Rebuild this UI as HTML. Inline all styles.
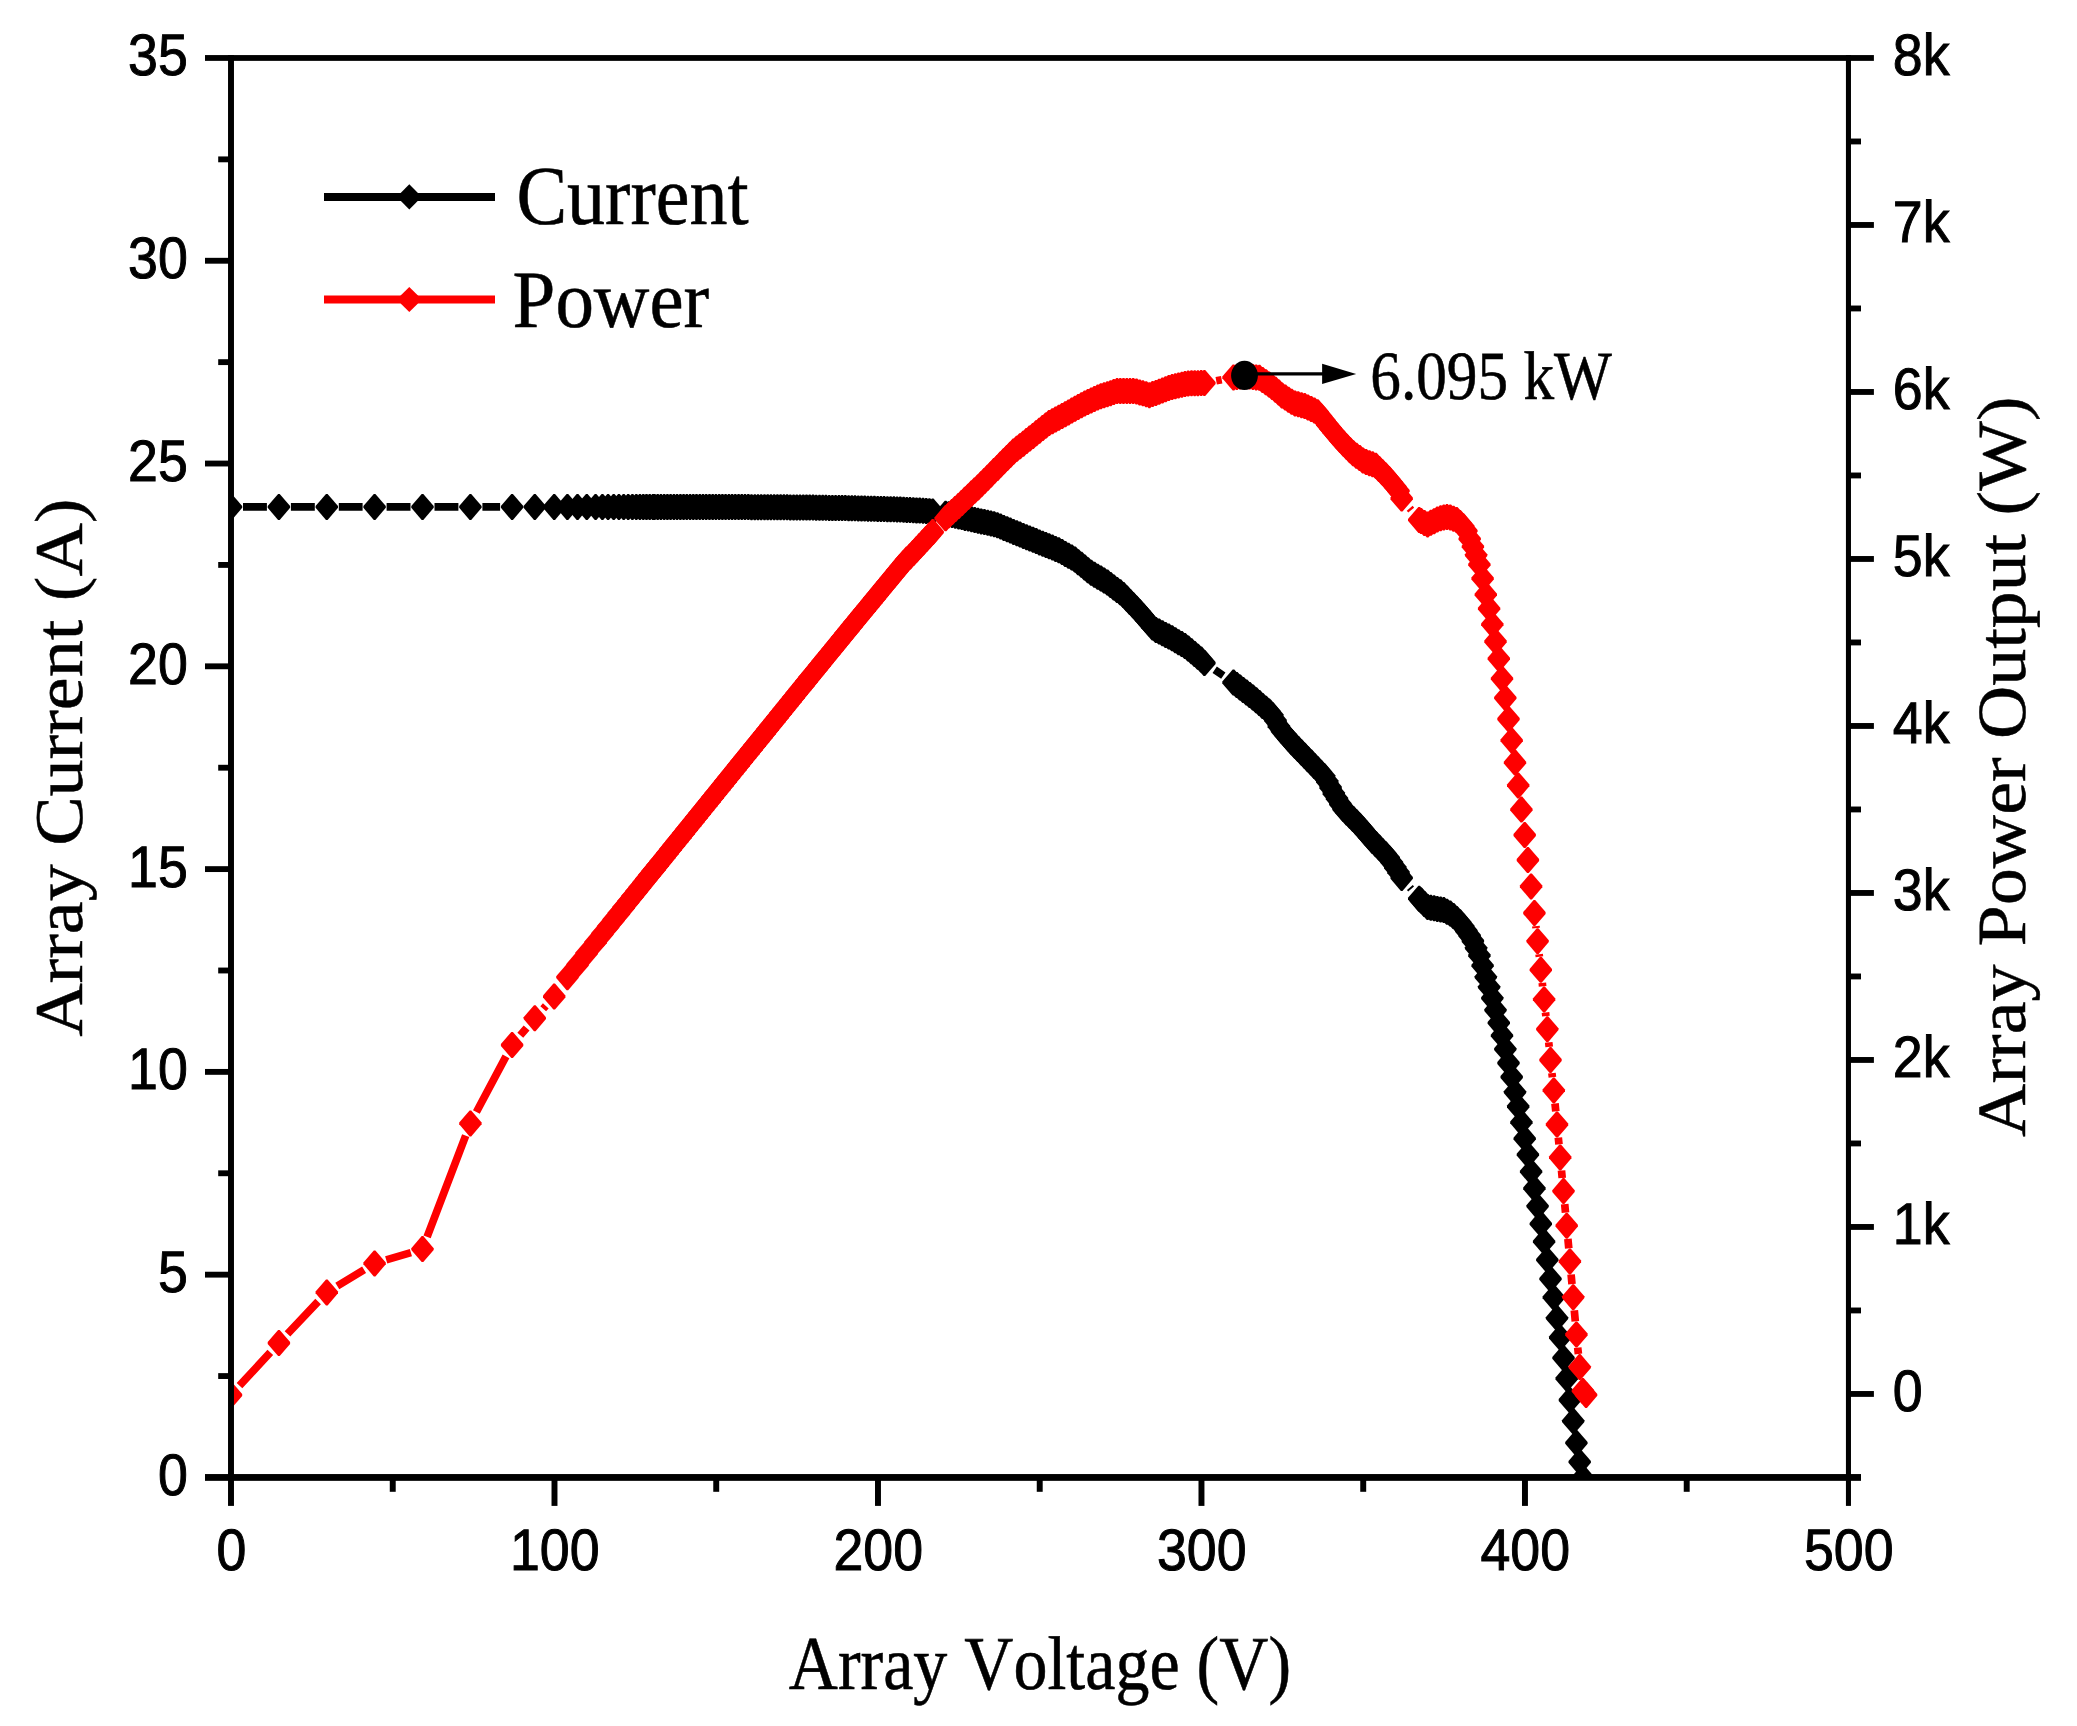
<!DOCTYPE html>
<html lang="en"><head><meta charset="utf-8"><title>Array I-V and P-V curves</title>
<style>html,body{margin:0;padding:0;background:#fff}body{width:2077px;height:1726px;overflow:hidden}svg{display:block}text{fill:#000;font-kerning:none;font-variant-ligatures:none;text-rendering:geometricPrecision}</style></head><body>
<svg width="2077" height="1726" viewBox="0 0 2077 1726">
<rect width="2077" height="1726" fill="#fff"/>
<defs><clipPath id="plot"><rect x="231.0" y="58.0" width="1617.5" height="1419.5"/></clipPath><path id="d" d="M-11.2 -0.9L-0.8 -13H0.8L11.2 -0.9V0.9L0.8 13H-0.8L-11.2 0.9z"/><path id="ld" d="M409.3 184.3l8.4 8.4l1.5 4.2l-1.5 4.2l-8.4 8.4l-8.4-8.4l-1.5-4.2l1.5-4.2z"/></defs>
<g clip-path="url(#plot)">
<path d="M243.0 506.9L266.9 506.9M290.9 506.9L314.8 506.9M338.8 506.9L362.6 506.9M386.6 506.9L410.5 506.9M434.5 506.9L458.4 506.9M482.4 506.9L500.1 506.9M1214.7 669.8L1223.3 675.6M1409.9 887.6L1411.1 889.0" fill="none" stroke="#000" stroke-width="7.7"/>
<g fill="#000"><use href="#d" x="231.0" y="506.9"/><use href="#d" x="278.9" y="506.9"/><use href="#d" x="326.8" y="506.9"/><use href="#d" x="374.6" y="506.9"/><use href="#d" x="422.5" y="506.9"/><use href="#d" x="470.4" y="506.9"/><use href="#d" x="512.1" y="506.9"/><use href="#d" x="534.8" y="506.9"/><use href="#d" x="554.2" y="506.9"/><use href="#d" x="567.4" y="506.9"/><use href="#d" x="577.5" y="506.9"/><use href="#d" x="586.8" y="506.9"/><use href="#d" x="595.6" y="506.9"/><use href="#d" x="602.4" y="506.9"/><use href="#d" x="608.1" y="506.9"/><use href="#d" x="613.7" y="506.9"/><use href="#d" x="618.9" y="506.9"/><use href="#d" x="623.7" y="506.9"/><use href="#d" x="628.2" y="506.9"/><use href="#d" x="632.4" y="506.9"/><use href="#d" x="636.3" y="506.9"/><use href="#d" x="639.9" y="506.9"/><use href="#d" x="643.3" y="506.9"/><use href="#d" x="646.5" y="506.9"/><use href="#d" x="649.7" y="506.9"/><use href="#d" x="653.0" y="506.9"/><use href="#d" x="654.5" y="506.9"/><use href="#d" x="657.7" y="506.9"/><use href="#d" x="660.9" y="506.9"/><use href="#d" x="664.2" y="506.9"/><use href="#d" x="667.4" y="506.9"/><use href="#d" x="670.6" y="506.9"/><use href="#d" x="673.9" y="506.9"/><use href="#d" x="677.1" y="506.9"/><use href="#d" x="680.4" y="506.9"/><use href="#d" x="683.6" y="506.9"/><use href="#d" x="686.8" y="506.9"/><use href="#d" x="690.1" y="506.9"/><use href="#d" x="693.3" y="506.9"/><use href="#d" x="696.5" y="506.9"/><use href="#d" x="699.8" y="506.9"/><use href="#d" x="703.0" y="506.9"/><use href="#d" x="706.2" y="506.9"/><use href="#d" x="709.5" y="506.9"/><use href="#d" x="712.7" y="507.0"/><use href="#d" x="715.9" y="507.0"/><use href="#d" x="719.2" y="507.0"/><use href="#d" x="722.4" y="507.0"/><use href="#d" x="725.6" y="507.0"/><use href="#d" x="728.9" y="507.0"/><use href="#d" x="732.1" y="507.1"/><use href="#d" x="735.3" y="507.1"/><use href="#d" x="738.6" y="507.1"/><use href="#d" x="741.8" y="507.1"/><use href="#d" x="745.0" y="507.1"/><use href="#d" x="748.3" y="507.1"/><use href="#d" x="751.5" y="507.2"/><use href="#d" x="754.8" y="507.2"/><use href="#d" x="758.0" y="507.2"/><use href="#d" x="761.2" y="507.2"/><use href="#d" x="764.5" y="507.2"/><use href="#d" x="767.7" y="507.2"/><use href="#d" x="770.9" y="507.3"/><use href="#d" x="774.2" y="507.3"/><use href="#d" x="777.4" y="507.3"/><use href="#d" x="780.6" y="507.3"/><use href="#d" x="783.9" y="507.3"/><use href="#d" x="787.1" y="507.3"/><use href="#d" x="790.3" y="507.4"/><use href="#d" x="793.6" y="507.4"/><use href="#d" x="796.8" y="507.4"/><use href="#d" x="800.0" y="507.4"/><use href="#d" x="803.3" y="507.5"/><use href="#d" x="806.5" y="507.5"/><use href="#d" x="809.7" y="507.6"/><use href="#d" x="813.0" y="507.6"/><use href="#d" x="816.2" y="507.7"/><use href="#d" x="819.5" y="507.7"/><use href="#d" x="822.7" y="507.8"/><use href="#d" x="825.9" y="507.8"/><use href="#d" x="829.2" y="507.9"/><use href="#d" x="832.4" y="507.9"/><use href="#d" x="835.6" y="508.0"/><use href="#d" x="838.9" y="508.0"/><use href="#d" x="842.1" y="508.1"/><use href="#d" x="845.3" y="508.1"/><use href="#d" x="848.6" y="508.2"/><use href="#d" x="851.8" y="508.2"/><use href="#d" x="855.0" y="508.3"/><use href="#d" x="858.3" y="508.4"/><use href="#d" x="861.5" y="508.5"/><use href="#d" x="864.7" y="508.6"/><use href="#d" x="868.0" y="508.7"/><use href="#d" x="871.2" y="508.8"/><use href="#d" x="874.4" y="508.8"/><use href="#d" x="877.7" y="508.9"/><use href="#d" x="880.9" y="509.0"/><use href="#d" x="884.1" y="509.1"/><use href="#d" x="887.4" y="509.2"/><use href="#d" x="890.6" y="509.3"/><use href="#d" x="893.9" y="509.3"/><use href="#d" x="897.1" y="509.4"/><use href="#d" x="900.3" y="509.5"/><use href="#d" x="903.6" y="509.7"/><use href="#d" x="906.8" y="509.9"/><use href="#d" x="910.0" y="510.1"/><use href="#d" x="913.3" y="510.3"/><use href="#d" x="916.5" y="510.4"/><use href="#d" x="919.7" y="510.6"/><use href="#d" x="923.0" y="510.8"/><use href="#d" x="926.2" y="511.0"/><use href="#d" x="929.4" y="511.2"/><use href="#d" x="932.7" y="511.5"/><use href="#d" x="945.6" y="513.7"/><use href="#d" x="948.8" y="514.3"/><use href="#d" x="952.1" y="515.0"/><use href="#d" x="955.3" y="515.7"/><use href="#d" x="958.6" y="516.4"/><use href="#d" x="961.8" y="517.1"/><use href="#d" x="965.0" y="517.9"/><use href="#d" x="968.3" y="518.6"/><use href="#d" x="971.5" y="519.3"/><use href="#d" x="974.7" y="520.0"/><use href="#d" x="978.0" y="520.7"/><use href="#d" x="981.2" y="521.4"/><use href="#d" x="984.4" y="522.1"/><use href="#d" x="987.7" y="522.8"/><use href="#d" x="990.9" y="523.5"/><use href="#d" x="994.1" y="524.2"/><use href="#d" x="997.4" y="525.3"/><use href="#d" x="1000.6" y="526.6"/><use href="#d" x="1003.8" y="527.9"/><use href="#d" x="1007.1" y="529.3"/><use href="#d" x="1010.3" y="530.6"/><use href="#d" x="1013.5" y="531.9"/><use href="#d" x="1016.8" y="533.2"/><use href="#d" x="1020.0" y="534.6"/><use href="#d" x="1023.3" y="535.9"/><use href="#d" x="1026.5" y="537.2"/><use href="#d" x="1029.7" y="538.5"/><use href="#d" x="1033.0" y="539.8"/><use href="#d" x="1036.2" y="541.1"/><use href="#d" x="1039.4" y="542.4"/><use href="#d" x="1042.7" y="543.7"/><use href="#d" x="1045.9" y="545.0"/><use href="#d" x="1049.1" y="546.3"/><use href="#d" x="1052.4" y="547.6"/><use href="#d" x="1055.6" y="548.9"/><use href="#d" x="1058.8" y="550.2"/><use href="#d" x="1062.1" y="552.0"/><use href="#d" x="1065.3" y="553.9"/><use href="#d" x="1068.5" y="555.7"/><use href="#d" x="1071.8" y="557.6"/><use href="#d" x="1075.0" y="559.5"/><use href="#d" x="1078.2" y="562.2"/><use href="#d" x="1081.5" y="564.8"/><use href="#d" x="1084.7" y="567.5"/><use href="#d" x="1087.9" y="570.2"/><use href="#d" x="1091.2" y="572.8"/><use href="#d" x="1094.4" y="574.7"/><use href="#d" x="1097.7" y="576.7"/><use href="#d" x="1100.9" y="578.6"/><use href="#d" x="1104.1" y="580.6"/><use href="#d" x="1107.4" y="582.6"/><use href="#d" x="1110.6" y="585.1"/><use href="#d" x="1113.8" y="587.5"/><use href="#d" x="1117.1" y="589.9"/><use href="#d" x="1120.3" y="592.3"/><use href="#d" x="1123.5" y="595.1"/><use href="#d" x="1126.8" y="598.5"/><use href="#d" x="1130.0" y="601.9"/><use href="#d" x="1133.2" y="605.3"/><use href="#d" x="1136.5" y="608.7"/><use href="#d" x="1139.7" y="612.2"/><use href="#d" x="1142.9" y="616.0"/><use href="#d" x="1146.2" y="619.8"/><use href="#d" x="1149.4" y="623.6"/><use href="#d" x="1152.6" y="627.4"/><use href="#d" x="1155.9" y="630.0"/><use href="#d" x="1159.1" y="631.6"/><use href="#d" x="1162.4" y="633.2"/><use href="#d" x="1165.6" y="634.9"/><use href="#d" x="1168.8" y="636.5"/><use href="#d" x="1172.1" y="638.3"/><use href="#d" x="1175.3" y="640.2"/><use href="#d" x="1178.5" y="642.2"/><use href="#d" x="1181.8" y="644.1"/><use href="#d" x="1185.0" y="646.1"/><use href="#d" x="1188.2" y="648.6"/><use href="#d" x="1191.5" y="651.3"/><use href="#d" x="1194.7" y="654.1"/><use href="#d" x="1197.9" y="656.8"/><use href="#d" x="1201.2" y="659.6"/><use href="#d" x="1204.4" y="663.0"/><use href="#d" x="1233.5" y="682.5"/><use href="#d" x="1236.8" y="685.0"/><use href="#d" x="1240.0" y="687.5"/><use href="#d" x="1243.2" y="690.0"/><use href="#d" x="1246.5" y="692.5"/><use href="#d" x="1249.7" y="695.0"/><use href="#d" x="1252.9" y="697.5"/><use href="#d" x="1256.2" y="700.3"/><use href="#d" x="1259.4" y="703.1"/><use href="#d" x="1262.6" y="705.9"/><use href="#d" x="1265.9" y="708.7"/><use href="#d" x="1269.1" y="711.5"/><use href="#d" x="1272.3" y="715.1"/><use href="#d" x="1275.6" y="720.7"/><use href="#d" x="1278.8" y="726.3"/><use href="#d" x="1282.0" y="731.1"/><use href="#d" x="1285.3" y="734.8"/><use href="#d" x="1288.5" y="738.5"/><use href="#d" x="1291.7" y="742.2"/><use href="#d" x="1295.0" y="745.8"/><use href="#d" x="1298.2" y="749.1"/><use href="#d" x="1301.5" y="752.5"/><use href="#d" x="1304.7" y="755.8"/><use href="#d" x="1307.9" y="759.2"/><use href="#d" x="1311.2" y="762.5"/><use href="#d" x="1314.4" y="765.9"/><use href="#d" x="1317.6" y="769.3"/><use href="#d" x="1320.9" y="772.7"/><use href="#d" x="1324.1" y="776.1"/><use href="#d" x="1327.3" y="781.5"/><use href="#d" x="1330.6" y="787.5"/><use href="#d" x="1333.8" y="793.5"/><use href="#d" x="1337.0" y="798.7"/><use href="#d" x="1340.3" y="804.0"/><use href="#d" x="1343.5" y="809.1"/><use href="#d" x="1346.7" y="812.4"/><use href="#d" x="1350.0" y="815.7"/><use href="#d" x="1353.2" y="819.0"/><use href="#d" x="1356.4" y="822.3"/><use href="#d" x="1359.7" y="825.7"/><use href="#d" x="1362.9" y="829.5"/><use href="#d" x="1366.1" y="833.3"/><use href="#d" x="1369.4" y="837.1"/><use href="#d" x="1372.6" y="840.9"/><use href="#d" x="1375.9" y="844.2"/><use href="#d" x="1379.1" y="847.6"/><use href="#d" x="1382.3" y="850.9"/><use href="#d" x="1385.6" y="854.2"/><use href="#d" x="1388.8" y="858.0"/><use href="#d" x="1392.0" y="862.7"/><use href="#d" x="1395.3" y="867.5"/><use href="#d" x="1398.5" y="872.3"/><use href="#d" x="1401.7" y="877.9"/><use href="#d" x="1419.2" y="898.7"/><use href="#d" x="1421.1" y="900.6"/><use href="#d" x="1424.4" y="903.9"/><use href="#d" x="1427.6" y="907.1"/><use href="#d" x="1430.8" y="907.8"/><use href="#d" x="1434.1" y="908.3"/><use href="#d" x="1437.3" y="908.9"/><use href="#d" x="1440.6" y="909.5"/><use href="#d" x="1443.8" y="910.1"/><use href="#d" x="1447.0" y="911.7"/><use href="#d" x="1450.3" y="913.4"/><use href="#d" x="1453.5" y="916.0"/><use href="#d" x="1456.7" y="919.1"/><use href="#d" x="1460.0" y="922.3"/><use href="#d" x="1463.2" y="926.3"/><use href="#d" x="1466.4" y="931.0"/><use href="#d" x="1469.7" y="935.7"/><use href="#d" x="1472.9" y="941.0"/><use href="#d" x="1476.1" y="948.2"/><use href="#d" x="1479.4" y="955.5"/><use href="#d" x="1482.6" y="965.7"/><use href="#d" x="1485.8" y="977.1"/><use href="#d" x="1489.1" y="987.1"/><use href="#d" x="1492.3" y="998.2"/><use href="#d" x="1495.5" y="1010.1"/><use href="#d" x="1498.8" y="1022.9"/><use href="#d" x="1502.0" y="1035.6"/><use href="#d" x="1505.3" y="1049.1"/><use href="#d" x="1508.5" y="1063.0"/><use href="#d" x="1511.7" y="1077.0"/><use href="#d" x="1515.0" y="1092.2"/><use href="#d" x="1518.2" y="1106.5"/><use href="#d" x="1521.4" y="1122.4"/><use href="#d" x="1524.7" y="1138.6"/><use href="#d" x="1527.9" y="1154.7"/><use href="#d" x="1531.1" y="1171.7"/><use href="#d" x="1534.4" y="1188.4"/><use href="#d" x="1537.6" y="1206.2"/><use href="#d" x="1540.8" y="1223.8"/><use href="#d" x="1544.1" y="1241.6"/><use href="#d" x="1547.3" y="1259.9"/><use href="#d" x="1550.5" y="1278.9"/><use href="#d" x="1553.8" y="1297.4"/><use href="#d" x="1557.0" y="1318.1"/><use href="#d" x="1560.2" y="1337.5"/><use href="#d" x="1563.5" y="1357.9"/><use href="#d" x="1566.7" y="1378.5"/><use href="#d" x="1569.9" y="1400.0"/><use href="#d" x="1573.2" y="1421.1"/><use href="#d" x="1576.4" y="1442.9"/><use href="#d" x="1579.7" y="1461.9"/><use href="#d" x="1582.9" y="1477.6"/></g>
<path d="M239.5 1385.7L270.3 1352.3M287.5 1333.9L318.1 1301.5M337.3 1286.0L364.1 1269.8M386.2 1259.9L410.9 1252.6M427.1 1236.9L465.7 1135.6M476.4 1112.0L506.0 1056.4M520.3 1035.3L526.6 1027.9M543.2 1008.8L545.8 1005.9M1216.2 380.7L1221.7 379.7M1409.7 508.3L1411.2 510.1M1535.9 926.1L1536.1 928.1M1539.1 954.3L1539.4 956.7M1542.3 982.9L1542.6 986.3M1545.5 1012.5L1545.9 1016.1M1548.7 1042.3L1549.2 1046.9M1551.9 1073.1L1552.4 1077.3M1555.0 1103.5L1555.8 1111.4M1558.3 1137.6L1559.0 1144.3M1561.5 1170.5L1562.2 1178.0M1564.7 1204.2L1565.5 1212.6M1567.9 1238.8L1568.8 1248.3M1571.1 1274.5L1572.0 1284.1M1574.3 1310.3L1575.3 1321.4M1577.7 1347.6L1578.4 1354.0" fill="none" stroke="#fe0000" stroke-width="7.7"/>
<g fill="#fe0000"><use href="#d" x="231.0" y="1395.0"/><use href="#d" x="278.9" y="1343.0"/><use href="#d" x="326.8" y="1292.4"/><use href="#d" x="374.6" y="1263.4"/><use href="#d" x="422.5" y="1249.1"/><use href="#d" x="470.4" y="1123.4"/><use href="#d" x="512.1" y="1045.0"/><use href="#d" x="534.8" y="1018.2"/><use href="#d" x="554.2" y="996.5"/><use href="#d" x="567.4" y="977.2"/><use href="#d" x="577.5" y="964.8"/><use href="#d" x="586.8" y="953.2"/><use href="#d" x="595.6" y="942.3"/><use href="#d" x="602.4" y="933.9"/><use href="#d" x="608.1" y="926.8"/><use href="#d" x="613.7" y="919.9"/><use href="#d" x="618.9" y="913.5"/><use href="#d" x="623.7" y="907.5"/><use href="#d" x="628.2" y="901.9"/><use href="#d" x="632.4" y="896.7"/><use href="#d" x="636.3" y="891.9"/><use href="#d" x="639.9" y="887.4"/><use href="#d" x="643.3" y="883.2"/><use href="#d" x="646.5" y="879.2"/><use href="#d" x="649.7" y="875.2"/><use href="#d" x="653.0" y="871.2"/><use href="#d" x="654.5" y="869.4"/><use href="#d" x="657.7" y="865.4"/><use href="#d" x="660.9" y="861.4"/><use href="#d" x="664.2" y="857.4"/><use href="#d" x="667.4" y="853.4"/><use href="#d" x="670.6" y="849.3"/><use href="#d" x="673.9" y="845.3"/><use href="#d" x="677.1" y="841.3"/><use href="#d" x="680.4" y="837.3"/><use href="#d" x="683.6" y="833.3"/><use href="#d" x="686.8" y="829.3"/><use href="#d" x="690.1" y="825.3"/><use href="#d" x="693.3" y="821.3"/><use href="#d" x="696.5" y="817.3"/><use href="#d" x="699.8" y="813.3"/><use href="#d" x="703.0" y="809.3"/><use href="#d" x="706.2" y="805.3"/><use href="#d" x="709.5" y="801.3"/><use href="#d" x="712.7" y="797.3"/><use href="#d" x="715.9" y="793.3"/><use href="#d" x="719.2" y="789.3"/><use href="#d" x="722.4" y="785.3"/><use href="#d" x="725.6" y="781.3"/><use href="#d" x="728.9" y="777.3"/><use href="#d" x="732.1" y="773.3"/><use href="#d" x="735.3" y="769.3"/><use href="#d" x="738.6" y="765.3"/><use href="#d" x="741.8" y="761.3"/><use href="#d" x="745.0" y="757.3"/><use href="#d" x="748.3" y="753.3"/><use href="#d" x="751.5" y="749.3"/><use href="#d" x="754.8" y="745.3"/><use href="#d" x="758.0" y="741.3"/><use href="#d" x="761.2" y="737.4"/><use href="#d" x="764.5" y="733.4"/><use href="#d" x="767.7" y="729.4"/><use href="#d" x="770.9" y="725.4"/><use href="#d" x="774.2" y="721.4"/><use href="#d" x="777.4" y="717.4"/><use href="#d" x="780.6" y="713.4"/><use href="#d" x="783.9" y="709.4"/><use href="#d" x="787.1" y="705.4"/><use href="#d" x="790.3" y="701.4"/><use href="#d" x="793.6" y="697.4"/><use href="#d" x="796.8" y="693.4"/><use href="#d" x="800.0" y="689.4"/><use href="#d" x="803.3" y="685.5"/><use href="#d" x="806.5" y="681.5"/><use href="#d" x="809.7" y="677.5"/><use href="#d" x="813.0" y="673.6"/><use href="#d" x="816.2" y="669.6"/><use href="#d" x="819.5" y="665.6"/><use href="#d" x="822.7" y="661.7"/><use href="#d" x="825.9" y="657.7"/><use href="#d" x="829.2" y="653.7"/><use href="#d" x="832.4" y="649.8"/><use href="#d" x="835.6" y="645.8"/><use href="#d" x="838.9" y="641.8"/><use href="#d" x="842.1" y="637.9"/><use href="#d" x="845.3" y="633.9"/><use href="#d" x="848.6" y="630.0"/><use href="#d" x="851.8" y="626.0"/><use href="#d" x="855.0" y="622.1"/><use href="#d" x="858.3" y="618.1"/><use href="#d" x="861.5" y="614.2"/><use href="#d" x="864.7" y="610.3"/><use href="#d" x="868.0" y="606.3"/><use href="#d" x="871.2" y="602.4"/><use href="#d" x="874.4" y="598.5"/><use href="#d" x="877.7" y="594.6"/><use href="#d" x="880.9" y="590.6"/><use href="#d" x="884.1" y="586.7"/><use href="#d" x="887.4" y="582.8"/><use href="#d" x="890.6" y="578.8"/><use href="#d" x="893.9" y="574.9"/><use href="#d" x="897.1" y="571.0"/><use href="#d" x="900.3" y="567.1"/><use href="#d" x="903.6" y="563.2"/><use href="#d" x="906.8" y="559.4"/><use href="#d" x="910.0" y="556.6"/><use href="#d" x="913.3" y="553.1"/><use href="#d" x="916.5" y="549.6"/><use href="#d" x="919.7" y="546.1"/><use href="#d" x="923.0" y="542.6"/><use href="#d" x="926.2" y="539.1"/><use href="#d" x="929.4" y="535.6"/><use href="#d" x="932.7" y="532.1"/><use href="#d" x="945.6" y="518.3"/><use href="#d" x="948.8" y="515.2"/><use href="#d" x="952.1" y="512.1"/><use href="#d" x="955.3" y="509.0"/><use href="#d" x="958.6" y="505.9"/><use href="#d" x="961.8" y="502.9"/><use href="#d" x="965.0" y="499.8"/><use href="#d" x="968.3" y="496.7"/><use href="#d" x="971.5" y="493.6"/><use href="#d" x="974.7" y="490.6"/><use href="#d" x="978.0" y="487.5"/><use href="#d" x="981.2" y="484.3"/><use href="#d" x="984.4" y="481.0"/><use href="#d" x="987.7" y="477.7"/><use href="#d" x="990.9" y="474.4"/><use href="#d" x="994.1" y="471.1"/><use href="#d" x="997.4" y="467.9"/><use href="#d" x="1000.6" y="464.6"/><use href="#d" x="1003.8" y="461.3"/><use href="#d" x="1007.1" y="458.0"/><use href="#d" x="1010.3" y="454.7"/><use href="#d" x="1013.5" y="451.5"/><use href="#d" x="1016.8" y="448.8"/><use href="#d" x="1020.0" y="446.2"/><use href="#d" x="1023.3" y="443.7"/><use href="#d" x="1026.5" y="441.1"/><use href="#d" x="1029.7" y="438.5"/><use href="#d" x="1033.0" y="435.9"/><use href="#d" x="1036.2" y="433.3"/><use href="#d" x="1039.4" y="430.7"/><use href="#d" x="1042.7" y="428.1"/><use href="#d" x="1045.9" y="425.6"/><use href="#d" x="1049.1" y="423.1"/><use href="#d" x="1052.4" y="421.3"/><use href="#d" x="1055.6" y="419.5"/><use href="#d" x="1058.8" y="417.8"/><use href="#d" x="1062.1" y="416.0"/><use href="#d" x="1065.3" y="414.2"/><use href="#d" x="1068.5" y="412.4"/><use href="#d" x="1071.8" y="410.6"/><use href="#d" x="1075.0" y="408.8"/><use href="#d" x="1078.2" y="407.0"/><use href="#d" x="1081.5" y="405.3"/><use href="#d" x="1084.7" y="403.6"/><use href="#d" x="1087.9" y="402.1"/><use href="#d" x="1091.2" y="400.6"/><use href="#d" x="1094.4" y="399.1"/><use href="#d" x="1097.7" y="397.6"/><use href="#d" x="1100.9" y="396.2"/><use href="#d" x="1104.1" y="395.2"/><use href="#d" x="1107.4" y="394.2"/><use href="#d" x="1110.6" y="393.2"/><use href="#d" x="1113.8" y="392.1"/><use href="#d" x="1117.1" y="391.1"/><use href="#d" x="1120.3" y="390.9"/><use href="#d" x="1123.5" y="390.9"/><use href="#d" x="1126.8" y="391.0"/><use href="#d" x="1130.0" y="391.1"/><use href="#d" x="1133.2" y="391.1"/><use href="#d" x="1136.5" y="391.5"/><use href="#d" x="1139.7" y="392.4"/><use href="#d" x="1142.9" y="393.3"/><use href="#d" x="1146.2" y="394.3"/><use href="#d" x="1149.4" y="395.2"/><use href="#d" x="1152.6" y="394.1"/><use href="#d" x="1155.9" y="392.9"/><use href="#d" x="1159.1" y="391.8"/><use href="#d" x="1162.4" y="390.6"/><use href="#d" x="1165.6" y="389.3"/><use href="#d" x="1168.8" y="388.0"/><use href="#d" x="1172.1" y="387.0"/><use href="#d" x="1175.3" y="386.2"/><use href="#d" x="1178.5" y="385.5"/><use href="#d" x="1181.8" y="384.8"/><use href="#d" x="1185.0" y="384.0"/><use href="#d" x="1188.2" y="383.4"/><use href="#d" x="1191.5" y="383.3"/><use href="#d" x="1194.7" y="383.2"/><use href="#d" x="1197.9" y="383.2"/><use href="#d" x="1201.2" y="383.1"/><use href="#d" x="1204.4" y="383.0"/><use href="#d" x="1233.5" y="377.4"/><use href="#d" x="1236.8" y="377.0"/><use href="#d" x="1240.0" y="376.6"/><use href="#d" x="1243.2" y="376.2"/><use href="#d" x="1246.5" y="376.2"/><use href="#d" x="1249.7" y="376.6"/><use href="#d" x="1252.9" y="377.0"/><use href="#d" x="1256.2" y="377.4"/><use href="#d" x="1259.4" y="377.8"/><use href="#d" x="1262.6" y="380.0"/><use href="#d" x="1265.9" y="382.2"/><use href="#d" x="1269.1" y="384.5"/><use href="#d" x="1272.3" y="387.0"/><use href="#d" x="1275.6" y="389.8"/><use href="#d" x="1278.8" y="392.6"/><use href="#d" x="1282.0" y="395.4"/><use href="#d" x="1285.3" y="397.6"/><use href="#d" x="1288.5" y="399.7"/><use href="#d" x="1291.7" y="401.7"/><use href="#d" x="1295.0" y="403.5"/><use href="#d" x="1298.2" y="404.3"/><use href="#d" x="1301.5" y="405.2"/><use href="#d" x="1304.7" y="406.1"/><use href="#d" x="1307.9" y="407.4"/><use href="#d" x="1311.2" y="408.9"/><use href="#d" x="1314.4" y="410.5"/><use href="#d" x="1317.6" y="412.2"/><use href="#d" x="1320.9" y="416.3"/><use href="#d" x="1324.1" y="420.4"/><use href="#d" x="1327.3" y="424.6"/><use href="#d" x="1330.6" y="428.5"/><use href="#d" x="1333.8" y="432.4"/><use href="#d" x="1337.0" y="436.2"/><use href="#d" x="1340.3" y="440.0"/><use href="#d" x="1343.5" y="443.4"/><use href="#d" x="1346.7" y="446.8"/><use href="#d" x="1350.0" y="450.2"/><use href="#d" x="1353.2" y="453.3"/><use href="#d" x="1356.4" y="455.7"/><use href="#d" x="1359.7" y="458.1"/><use href="#d" x="1362.9" y="460.5"/><use href="#d" x="1366.1" y="462.0"/><use href="#d" x="1369.4" y="463.2"/><use href="#d" x="1372.6" y="464.3"/><use href="#d" x="1375.9" y="465.8"/><use href="#d" x="1379.1" y="469.0"/><use href="#d" x="1382.3" y="472.2"/><use href="#d" x="1385.6" y="475.5"/><use href="#d" x="1388.8" y="479.1"/><use href="#d" x="1392.0" y="483.0"/><use href="#d" x="1395.3" y="486.9"/><use href="#d" x="1398.5" y="490.9"/><use href="#d" x="1401.7" y="498.5"/><use href="#d" x="1419.2" y="519.9"/><use href="#d" x="1421.1" y="521.0"/><use href="#d" x="1424.4" y="522.9"/><use href="#d" x="1427.6" y="524.4"/><use href="#d" x="1430.8" y="522.8"/><use href="#d" x="1434.1" y="521.2"/><use href="#d" x="1437.3" y="519.5"/><use href="#d" x="1440.6" y="518.3"/><use href="#d" x="1443.8" y="517.6"/><use href="#d" x="1447.0" y="517.0"/><use href="#d" x="1450.3" y="517.6"/><use href="#d" x="1453.5" y="518.7"/><use href="#d" x="1456.7" y="519.9"/><use href="#d" x="1460.0" y="523.1"/><use href="#d" x="1463.2" y="526.3"/><use href="#d" x="1466.4" y="530.9"/><use href="#d" x="1469.7" y="538.8"/><use href="#d" x="1472.9" y="546.7"/><use href="#d" x="1476.1" y="555.2"/><use href="#d" x="1479.4" y="564.6"/><use href="#d" x="1482.6" y="578.5"/><use href="#d" x="1485.8" y="594.6"/><use href="#d" x="1489.1" y="608.6"/><use href="#d" x="1492.3" y="624.4"/><use href="#d" x="1495.5" y="641.5"/><use href="#d" x="1498.8" y="658.7"/><use href="#d" x="1502.0" y="678.7"/><use href="#d" x="1505.3" y="697.9"/><use href="#d" x="1508.5" y="719.0"/><use href="#d" x="1511.7" y="740.4"/><use href="#d" x="1515.0" y="762.6"/><use href="#d" x="1518.2" y="785.4"/><use href="#d" x="1521.4" y="809.6"/><use href="#d" x="1524.7" y="835.0"/><use href="#d" x="1527.9" y="860.0"/><use href="#d" x="1531.1" y="886.4"/><use href="#d" x="1534.4" y="913.0"/><use href="#d" x="1537.6" y="941.2"/><use href="#d" x="1540.8" y="969.8"/><use href="#d" x="1544.1" y="999.4"/><use href="#d" x="1547.3" y="1029.2"/><use href="#d" x="1550.5" y="1060.0"/><use href="#d" x="1553.8" y="1090.4"/><use href="#d" x="1557.0" y="1124.5"/><use href="#d" x="1560.2" y="1157.4"/><use href="#d" x="1563.5" y="1191.1"/><use href="#d" x="1566.7" y="1225.7"/><use href="#d" x="1569.9" y="1261.4"/><use href="#d" x="1573.2" y="1297.2"/><use href="#d" x="1576.4" y="1334.5"/><use href="#d" x="1579.7" y="1367.1"/><use href="#d" x="1582.9" y="1390.9"/><use href="#d" x="1586.1" y="1394.9"/></g>
</g>
<g fill="#000"><rect x="228.03" y="55.07" width="5.94" height="1450.83"/><rect x="1845.93" y="55.07" width="5.04" height="1450.83"/><rect x="205.00" y="55.07" width="1668.90" height="5.80"/><rect x="205.00" y="1474.05" width="1656.00" height="6.80"/><rect x="218.20" y="1373.13" width="12.80" height="5.85"/><rect x="205.00" y="1271.74" width="26.00" height="5.85"/><rect x="218.20" y="1170.35" width="12.80" height="5.85"/><rect x="205.00" y="1068.96" width="26.00" height="5.85"/><rect x="218.20" y="967.57" width="12.80" height="5.85"/><rect x="205.00" y="866.18" width="26.00" height="5.85"/><rect x="218.20" y="764.79" width="12.80" height="5.85"/><rect x="205.00" y="663.39" width="26.00" height="5.85"/><rect x="218.20" y="562.00" width="12.80" height="5.85"/><rect x="205.00" y="460.61" width="26.00" height="5.85"/><rect x="218.20" y="359.22" width="12.80" height="5.85"/><rect x="205.00" y="257.83" width="26.00" height="5.85"/><rect x="218.20" y="156.44" width="12.80" height="5.85"/><rect x="389.77" y="1477.45" width="5.94" height="14.35"/><rect x="551.52" y="1477.45" width="5.94" height="28.45"/><rect x="713.26" y="1477.45" width="5.94" height="14.35"/><rect x="875.01" y="1477.45" width="5.94" height="28.45"/><rect x="1036.75" y="1477.45" width="5.94" height="14.35"/><rect x="1198.50" y="1477.45" width="5.94" height="28.45"/><rect x="1360.25" y="1477.45" width="5.94" height="14.35"/><rect x="1521.99" y="1477.45" width="5.94" height="28.45"/><rect x="1683.74" y="1477.45" width="5.94" height="14.35"/><rect x="1848.45" y="1391.03" width="25.45" height="5.85"/><rect x="1848.45" y="1307.53" width="12.55" height="5.85"/><rect x="1848.45" y="1224.03" width="25.45" height="5.85"/><rect x="1848.45" y="1140.53" width="12.55" height="5.85"/><rect x="1848.45" y="1057.03" width="25.45" height="5.85"/><rect x="1848.45" y="973.53" width="12.55" height="5.85"/><rect x="1848.45" y="890.03" width="25.45" height="5.85"/><rect x="1848.45" y="806.53" width="12.55" height="5.85"/><rect x="1848.45" y="723.04" width="25.45" height="5.85"/><rect x="1848.45" y="639.54" width="12.55" height="5.85"/><rect x="1848.45" y="556.04" width="25.45" height="5.85"/><rect x="1848.45" y="472.54" width="12.55" height="5.85"/><rect x="1848.45" y="389.04" width="25.45" height="5.85"/><rect x="1848.45" y="305.54" width="12.55" height="5.85"/><rect x="1848.45" y="222.04" width="25.45" height="5.85"/><rect x="1848.45" y="138.54" width="12.55" height="5.85"/></g>
<path d="M324 197H495" stroke="#000" stroke-width="8" fill="none"/><use href="#ld" fill="#000"/>
<path d="M324 299.6H495" stroke="#fe0000" stroke-width="8" fill="none"/><use href="#ld" y="102.6" fill="#fe0000"/>
<ellipse cx="1244.5" cy="375.45" rx="13.4" ry="14.6" fill="#000"/>
<path d="M1250 373.9H1326" stroke="#000" stroke-width="3.3" fill="none"/><path d="M1322.1 363.7L1356.2 373.9L1322.1 384.1z" fill="#000"/>
<text transform="translate(187.80 1494.95) scale(1.0000 1.0900)" font-family='"Liberation Sans", sans-serif' font-size="53.70" text-anchor="end" stroke="#000" stroke-width="0.9">0</text>
<text transform="translate(187.80 1292.17) scale(1.0000 1.0900)" font-family='"Liberation Sans", sans-serif' font-size="53.70" text-anchor="end" stroke="#000" stroke-width="0.9">5</text>
<text transform="translate(187.80 1089.38) scale(1.0000 1.0900)" font-family='"Liberation Sans", sans-serif' font-size="53.70" text-anchor="end" stroke="#000" stroke-width="0.9">10</text>
<text transform="translate(187.80 886.60) scale(1.0000 1.0900)" font-family='"Liberation Sans", sans-serif' font-size="53.70" text-anchor="end" stroke="#000" stroke-width="0.9">15</text>
<text transform="translate(187.80 683.82) scale(1.0000 1.0900)" font-family='"Liberation Sans", sans-serif' font-size="53.70" text-anchor="end" stroke="#000" stroke-width="0.9">20</text>
<text transform="translate(187.80 481.04) scale(1.0000 1.0900)" font-family='"Liberation Sans", sans-serif' font-size="53.70" text-anchor="end" stroke="#000" stroke-width="0.9">25</text>
<text transform="translate(187.80 278.25) scale(1.0000 1.0900)" font-family='"Liberation Sans", sans-serif' font-size="53.70" text-anchor="end" stroke="#000" stroke-width="0.9">30</text>
<text transform="translate(187.80 75.47) scale(1.0000 1.0900)" font-family='"Liberation Sans", sans-serif' font-size="53.70" text-anchor="end" stroke="#000" stroke-width="0.9">35</text>
<text transform="translate(231.30 1570.00) scale(1.0000 1.0900)" font-family='"Liberation Sans", sans-serif' font-size="53.70" text-anchor="middle" stroke="#000" stroke-width="0.9">0</text>
<text transform="translate(554.79 1570.00) scale(1.0000 1.0900)" font-family='"Liberation Sans", sans-serif' font-size="53.70" text-anchor="middle" stroke="#000" stroke-width="0.9">100</text>
<text transform="translate(878.28 1570.00) scale(1.0000 1.0900)" font-family='"Liberation Sans", sans-serif' font-size="53.70" text-anchor="middle" stroke="#000" stroke-width="0.9">200</text>
<text transform="translate(1201.77 1570.00) scale(1.0000 1.0900)" font-family='"Liberation Sans", sans-serif' font-size="53.70" text-anchor="middle" stroke="#000" stroke-width="0.9">300</text>
<text transform="translate(1525.26 1570.00) scale(1.0000 1.0900)" font-family='"Liberation Sans", sans-serif' font-size="53.70" text-anchor="middle" stroke="#000" stroke-width="0.9">400</text>
<text transform="translate(1848.75 1570.00) scale(1.0000 1.0900)" font-family='"Liberation Sans", sans-serif' font-size="53.70" text-anchor="middle" stroke="#000" stroke-width="0.9">500</text>
<text transform="translate(1892.80 1411.15) scale(1.0000 1.0900)" font-family='"Liberation Sans", sans-serif' font-size="53.70" text-anchor="start" stroke="#000" stroke-width="0.9">0</text>
<text transform="translate(1892.80 1244.15) scale(1.0000 1.0900)" font-family='"Liberation Sans", sans-serif' font-size="53.70" text-anchor="start" stroke="#000" stroke-width="0.9">1k</text>
<text transform="translate(1892.80 1077.15) scale(1.0000 1.0900)" font-family='"Liberation Sans", sans-serif' font-size="53.70" text-anchor="start" stroke="#000" stroke-width="0.9">2k</text>
<text transform="translate(1892.80 910.16) scale(1.0000 1.0900)" font-family='"Liberation Sans", sans-serif' font-size="53.70" text-anchor="start" stroke="#000" stroke-width="0.9">3k</text>
<text transform="translate(1892.80 743.16) scale(1.0000 1.0900)" font-family='"Liberation Sans", sans-serif' font-size="53.70" text-anchor="start" stroke="#000" stroke-width="0.9">4k</text>
<text transform="translate(1892.80 576.16) scale(1.0000 1.0900)" font-family='"Liberation Sans", sans-serif' font-size="53.70" text-anchor="start" stroke="#000" stroke-width="0.9">5k</text>
<text transform="translate(1892.80 409.17) scale(1.0000 1.0900)" font-family='"Liberation Sans", sans-serif' font-size="53.70" text-anchor="start" stroke="#000" stroke-width="0.9">6k</text>
<text transform="translate(1892.80 242.17) scale(1.0000 1.0900)" font-family='"Liberation Sans", sans-serif' font-size="53.70" text-anchor="start" stroke="#000" stroke-width="0.9">7k</text>
<text transform="translate(1892.80 75.17) scale(1.0000 1.0900)" font-family='"Liberation Sans", sans-serif' font-size="53.70" text-anchor="start" stroke="#000" stroke-width="0.9">8k</text>
<text transform="translate(516.40 224.10) scale(1.0000 1.1040)" font-family='"Liberation Serif", serif' font-size="76.00" text-anchor="start" stroke="#000" stroke-width="0.5">Current</text>
<text transform="translate(512.60 327.40) scale(1.0125 1.0700)" font-family='"Liberation Serif", serif' font-size="76.00" text-anchor="start" stroke="#000" stroke-width="0.5">Power</text>
<text transform="translate(1370.30 399.40) scale(1.0040 1.1300)" font-family='"Liberation Serif", serif' font-size="61.00" text-anchor="start" stroke="#000" stroke-width="0.5">6.095 kW</text>
<text transform="translate(1039.90 1689.20) scale(1.0000 1.1200)" font-family='"Liberation Serif", serif' font-size="68.00" text-anchor="middle" stroke="#000" stroke-width="0.5">Array Voltage (V)</text>
<text transform="translate(82.30 767.70) rotate(-90) scale(1.0137 0.9350)" font-family='"Liberation Serif", serif' font-size="73.00" text-anchor="middle" stroke="#000" stroke-width="0.5">Array Current (A)</text>
<text transform="translate(2024.50 766.70) rotate(-90) scale(1.0117 0.9450)" font-family='"Liberation Serif", serif' font-size="73.00" text-anchor="middle" stroke="#000" stroke-width="0.5">Array Power Output (W)</text>
</svg></body></html>
